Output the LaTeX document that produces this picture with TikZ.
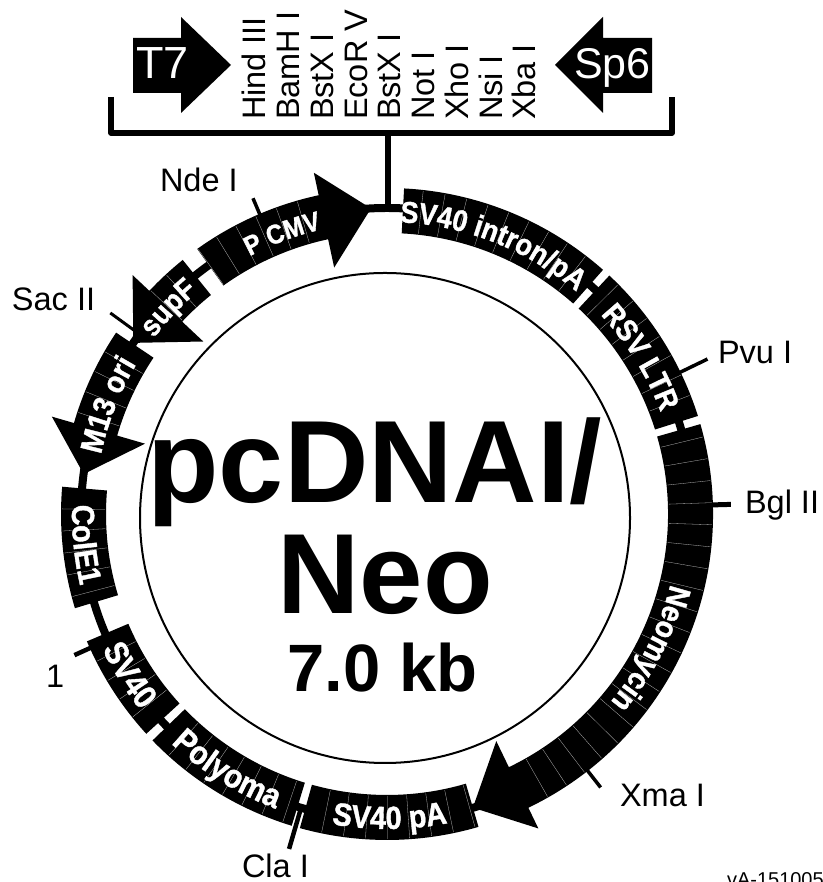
\documentclass[tikz,border=0pt]{standalone}
\usepackage{fontspec}
\setmainfont{Liberation Sans}
\newfontfamily\ringfont{Liberation Sans}[FakeStretch=0.9,FakeBold=1.2]
\usetikzlibrary{decorations.text}
\newcommand{\cxx}{387}
\newcommand{\cyy}{368}
\tikzset{x=1pt,y=1pt,
  reg/.style={inner sep=0pt,outer sep=0pt,text=black},
  tick/.style={line width=3.5pt,black},
  bar/.style={line width=5.5pt,black},
  vlab/.style={reg,rotate=90,anchor=base west,font=\fontsize{32.5}{32.5}\selectfont},
  slab/.style={reg,anchor=base west,font=\fontsize{32.5}{32.5}\selectfont},
  mainlab/.style={reg,anchor=base,font=\bfseries\fontsize{#1}{#1}\selectfont},
}
\newcommand{\hair}[2]{%
  \pgfmathsetmacro{\na}{min(#1,#2)}\pgfmathsetmacro{\nb}{max(#1,#2)}%
  \pgfmathsetmacro{\nc}{\na+3.9}\pgfmathsetmacro{\nd}{\nc+3.9}%
  \foreach \t in {\nc,\nd,...,\nb}{%
    \draw[line width=0.3pt,gray!55] (\t:282) -- (\t:325);}%
}
\newcommand{\block}[2]{%
  \fill[black] (#1:281) arc[start angle=#1,end angle=#2,radius=281] -- (#2:326) arc[start angle=#2,end angle=#1,radius=326] -- cycle;
  \hair{#1}{#2}}
% #1 tail, #2 body end, #3 tip
\newcommand{\arrowblock}[3]{%
  \fill[black] (#1:281) arc[start angle=#1,end angle=#2,radius=281] -- (#2:252) -- (#3:306) -- (#2:349) -- (#2:326) arc[start angle=#2,end angle=#1,radius=326] -- cycle;
  \hair{#1}{#2}}
% clockwise label, tops outward: #1 centre angle, #2 size, #3 text
\newcommand{\cwtxt}[3]{%
  \pgfmathsetmacro{\sa}{#1+40}\pgfmathsetmacro{\ea}{#1-40}%
  \path[decorate,decoration={text along path,text align=center,
     text={|\ringfont\bfseries\fontsize{#2}{#2}\selectfont\color{white}|#3}}]
     (\sa:292) arc[start angle=\sa,end angle=\ea,radius=292];}
% counter-clockwise label, tops inward
\newcommand{\ccwtxt}[3]{%
  \pgfmathsetmacro{\sa}{#1-40}\pgfmathsetmacro{\ea}{#1+40}%
  \path[decorate,decoration={text along path,text align=center,
     text={|\ringfont\bfseries\fontsize{#2}{#2}\selectfont\color{white}|#3}}]
     (\sa:315) arc[start angle=\sa,end angle=\ea,radius=315];}
\begin{document}
\begin{tikzpicture}
\useasboundingbox (0,0) rectangle (822,882);
\fill[white] (0,0) rectangle (822,882);
\fill[black] (133,844) -- (181,844) -- (181,865) -- (231,817) -- (181,769) -- (181,789) -- (133,789) -- cycle;
\fill[black] (652,844) -- (603,844) -- (603,865) -- (555,817) -- (603,769) -- (603,789) -- (652,789) -- cycle;
\node[reg,anchor=base west,text=white,font=\fontsize{45}{45}\selectfont] (t7) at (136,803) {T7};
\node[reg,anchor=base west,text=white,font=\fontsize{43}{43}\selectfont] (sp6) at (574,803) {Sp6};
\foreach \nm/\px/\lab in {a/265/Hind III,b/299/BamH I,c/333/BstX I,d/367/EcoR V,e/400/BstX I,f/434/Not I,g/468/Xho I,h/502/Nsi I,i/535/Xba I}{
  \node[vlab] (site\nm) at (\px,762) {\lab};}
\coordinate (brl) at (111,785);
\coordinate (brbl) at (111,749);
\coordinate (brbr) at (672,749);
\coordinate (brr) at (672,785);
\coordinate (brm) at (388,749);
\coordinate (ringtop) at (388,674);
\draw[bar,line join=round] (brl) -- (brbl) -- (brbr) -- (brr);
\draw[bar] (brm) -- (ringtop);
\begin{scope}[shift={(\cxx,\cyy)}]
  \draw[line width=2pt] (-2,-4) circle[radius=245];
  \draw[line width=8pt] (0,0) circle[radius=306];
  \block{87}{48.5}
  \block{47}{17.5}
  \arrowblock{16}{-64.3}{-73.7}
  \block{-73.7}{-105.5}
  \block{-107}{-136}
  \block{-137.6}{-157}
  \block{-163.2}{-184.8}
  \arrowblock{146.2}{163.8}{172.5}
  \arrowblock{128.8}{136.8}{146}
  \arrowblock{125.6}{102.1}{93}
  \draw[tick] (113:325) -- (113:343);
  \draw[tick,line width=3pt] (144:306) -- (144:342);
  \draw[tick] (25.8:325) -- (25.8:356);
  \draw[tick,line width=5pt] (1.6:325) -- (1.6:344);
  \draw[tick] (-52:325) -- (-52:347);
  \draw[tick,line width=4.5pt] (-106.3:306) -- (-106.3:349);
  \draw[tick,line width=4.5pt] (-155.7:323) -- (-155.7:343);
  \cwtxt{68.5}{30}{SV40 intron/pA}
  \cwtxt{31.7}{30}{RSV LTR}
  \cwtxt{-27}{31}{Neomycin}
  \cwtxt{110.5}{27}{P CMV}
  \cwtxt{158.7}{31}{M13 ori}
  \cwtxt{136.7}{30}{supF}
  \ccwtxt{-174.25}{32}{ColE1}
  \ccwtxt{-148}{33}{SV40}
  \ccwtxt{-122}{33}{Polyoma}
  \ccwtxt{-89.5}{32}{SV40 pA}
\end{scope}
\node[mainlab=117] (title) at (375,379) {pcDNAI/};
\node[mainlab=114] (neo) at (385,268) {Neo};
\node[mainlab=67] (size) at (382.5,190) {7.0 kb};
\node[slab] (nde) at (160,690) {Nde I};
\node[slab] (sac) at (12,571) {Sac II};
\node[slab] (pvu) at (718,518) {Pvu I};
\node[slab] (bgl) at (745,368) {Bgl II};
\node[slab] (xma) at (620,75) {Xma I};
\node[slab] (cla) at (242,5) {Cla I};
\node[slab] (one) at (46,194) {1};
\node[reg,anchor=base west,font=\fontsize{20}{20}\selectfont] (code) at (727,-5) {vA-151005};
\end{tikzpicture}
\end{document}
